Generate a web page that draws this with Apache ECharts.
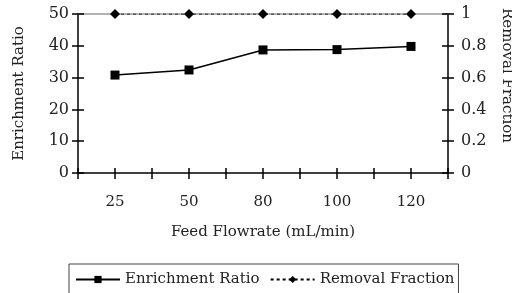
<!DOCTYPE html>
<html>
<head>
<meta charset="utf-8">
<script src="https://cdn.jsdelivr.net/npm/echarts@6/dist/echarts.min.js"></script>
<style>html,body{margin:0;padding:0;background:#fff}#c{width:512px;height:293px}</style>
</head>
<body>
<div id="c"></div>
<script>
var categories = ['25', '50', '80', '100', '120'];
var enrichmentRatio = [30.8, 32.4, 38.7, 38.8, 39.8];
var removalFraction = [1, 1, 1, 1, 1];
var leftTicks = [0, 10, 20, 30, 40, 50];
var rightTicks = [0, 0.2, 0.4, 0.6, 0.8, 1];

var FONT = 'DejaVu Serif';
var TXT = '#222';
var chart = echarts.init(document.getElementById('c'));

function xa(opts) {
  return Object.assign({
    type: 'category', data: categories, position: 'bottom', boundaryGap: true,
    axisLine: { show: false }, axisLabel: { show: false }, splitLine: { show: false },
    axisTick: { show: false }
  }, opts);
}
function ya(opts) {
  return Object.assign({
    type: 'value', splitLine: { show: false },
    axisLine: { show: false }, axisLabel: { show: false }, axisTick: { show: false }
  }, opts);
}

chart.setOption({
  animation: false,
  backgroundColor: '#fff',
  grid: { left: 78, right: 64, top: 14, bottom: 120, containLabel: false, outerBoundsMode: 'none' },
  legend: {
    left: 69, top: 264,
    borderColor: '#444', borderWidth: 1,
    padding: [8, 4, 20, 6],
    itemWidth: 44, itemHeight: 9, itemGap: 10,
    textStyle: { fontFamily: FONT, fontSize: 15, color: TXT },
    data: ['Enrichment Ratio', 'Removal Fraction']
  },
  xAxis: [
    xa({
      axisLine: { show: true, lineStyle: { color: '#000', width: 1.5 } },
      axisTick: { show: true, length: 6, lineStyle: { color: '#000', width: 1.5 } },
      axisLabel: { show: true, margin: 22, fontFamily: FONT, fontSize: 15, color: TXT },
      name: 'Feed Flowrate (mL/min)', nameLocation: 'middle', nameGap: 52,
      nameTextStyle: { fontFamily: FONT, fontSize: 15, color: TXT }
    }),
    xa({ axisTick: { show: true, inside: true, length: 5, lineStyle: { color: '#000', width: 1.5 } } }),
    xa({ axisTick: { show: true, alignWithLabel: true, length: 6, lineStyle: { color: '#000', width: 1.5 } } }),
    xa({ axisTick: { show: true, alignWithLabel: true, inside: true, length: 5, lineStyle: { color: '#000', width: 1.5 } } }),
    xa({ position: 'top', axisLine: { show: true, lineStyle: { color: '#999', width: 1.5 } } })
  ],
  yAxis: [
    ya({
      position: 'left', min: leftTicks[0], max: leftTicks[leftTicks.length - 1], interval: leftTicks[1] - leftTicks[0],
      axisLine: { show: true, lineStyle: { color: '#000', width: 1.5 } },
      axisTick: { show: true, length: 6, lineStyle: { color: '#000', width: 1.5 } },
      axisLabel: { show: true, margin: 9, fontFamily: FONT, fontSize: 16, color: TXT },
      name: 'Enrichment Ratio', nameLocation: 'middle', nameGap: 51, nameRotate: 90,
      nameTextStyle: { fontFamily: FONT, fontSize: 15, color: TXT }
    }),
    ya({
      position: 'right', min: rightTicks[0], max: rightTicks[rightTicks.length - 1], interval: rightTicks[1] - rightTicks[0],
      axisLine: { show: true, lineStyle: { color: '#000', width: 1.5 } },
      axisTick: { show: true, length: 6, lineStyle: { color: '#000', width: 1.5 } },
      axisLabel: { show: true, margin: 13, fontFamily: FONT, fontSize: 16, color: TXT },
      name: 'Removal Fraction', nameLocation: 'middle', nameGap: 51, nameRotate: -90,
      nameTextStyle: { fontFamily: FONT, fontSize: 15, color: TXT, padding: [0, 36, 0, 0] }
    }),
    ya({ position: 'left', min: leftTicks[0], max: leftTicks[leftTicks.length - 1], interval: leftTicks[1] - leftTicks[0],
      axisTick: { show: true, inside: true, length: 6, lineStyle: { color: '#000', width: 1.5 } } }),
    ya({ position: 'right', min: rightTicks[0], max: rightTicks[rightTicks.length - 1], interval: rightTicks[1] - rightTicks[0],
      axisTick: { show: true, inside: true, length: 6, lineStyle: { color: '#000', width: 1.5 } } })
  ],
  series: [
    {
      name: 'Enrichment Ratio', type: 'line', xAxisIndex: 0, yAxisIndex: 0,
      data: enrichmentRatio,
      symbol: 'rect', symbolSize: 9,
      lineStyle: { color: '#000', width: 1.5 },
      itemStyle: { color: '#000' }
    },
    {
      name: 'Removal Fraction', type: 'line', xAxisIndex: 0, yAxisIndex: 1,
      data: removalFraction,
      symbol: 'diamond', symbolSize: [10, 10],
      lineStyle: { color: '#000', width: 1.2, type: [3, 3] },
      itemStyle: { color: '#000' },
      z: 5
    }
  ]
});
</script>
</body>
</html>
